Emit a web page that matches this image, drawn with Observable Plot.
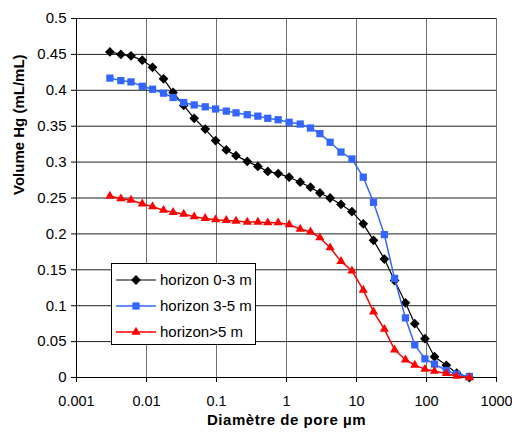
<!DOCTYPE html>
<html>
<head>
<meta charset="utf-8">
<script src="https://cdn.jsdelivr.net/npm/d3@7"></script>
<script src="https://cdn.jsdelivr.net/npm/@observablehq/plot@0.6"></script>
<style>
  body { margin: 0; background: #fff; }
  #wrap { position: relative; width: 512px; height: 437px; font-family: "Liberation Sans", Arial, sans-serif; }
  #legend { position: absolute; left: 111px; top: 263px; width: 143px; height: 80px; border: 1px solid #000; background: #fff; }
  #legend svg { display: block; }
  .xtitle text { letter-spacing: 0.55px; }
</style>
</head>
<body>
<div id="wrap"><div id="chart"></div><div id="legend"></div></div>
<script>
const diameters = [0.003, 0.0043, 0.006, 0.0087, 0.0122, 0.0175, 0.024, 0.034, 0.048, 0.069, 0.097, 0.138, 0.19, 0.275, 0.39, 0.54, 0.76, 1.09, 1.57, 2.2, 3.0, 4.2, 6.0, 8.6, 12.5, 17.5, 25, 35, 50, 68, 95, 130, 192, 270, 410];
const volume0to3 = [0.4535, 0.450, 0.448, 0.442, 0.432, 0.416, 0.397, 0.379, 0.361, 0.346, 0.330, 0.317, 0.309, 0.301, 0.294, 0.287, 0.284, 0.279, 0.272, 0.265, 0.257, 0.250, 0.241, 0.231, 0.214, 0.191, 0.165, 0.135, 0.104, 0.075, 0.054, 0.029, 0.017, 0.006, 0.000];
const volume3to5 = [0.417, 0.4135, 0.4117, 0.4056, 0.4015, 0.396, 0.390, 0.383, 0.3796, 0.377, 0.374, 0.371, 0.3686, 0.366, 0.364, 0.361, 0.359, 0.3555, 0.353, 0.3475, 0.3397, 0.3276, 0.314, 0.3043, 0.279, 0.244, 0.199, 0.138, 0.083, 0.0455, 0.026, 0.0186, 0.0098, 0.0046, 0.0014];
const volumeOver5 = [0.2527, 0.249, 0.247, 0.242, 0.238, 0.233, 0.230, 0.2277, 0.224, 0.2216, 0.2198, 0.2188, 0.2179, 0.2165, 0.2165, 0.2156, 0.2156, 0.213, 0.2067, 0.203, 0.1947, 0.1808, 0.1617, 0.1487, 0.1217, 0.0916, 0.0673, 0.0386, 0.0247, 0.0172, 0.0116, 0.0088, 0.0056, 0.0018, 0.0];
const seriesNames = ["horizon 0-3 m", "horizon 3-5 m", "horizon>5 m"];
const seriesColors = ["#000000", "#3366FF", "#FF0000"];
const seriesSymbols = ["diamond2", "square", "triangle"];
const xTicks = [0.001, 0.01, 0.1, 1, 10, 100, 1000];
const xTickLabels = ["0.001", "0.01", "0.1", "1", "10", "100", "1000"];
const yTicks = [0, 0.05, 0.1, 0.15, 0.2, 0.25, 0.3, 0.35, 0.4, 0.45, 0.5];
const yTickLabels = ["0", "0.05", "0.1", "0.15", "0.2", "0.25", "0.3", "0.35", "0.4", "0.45", "0.5"];
const xTitle = "Diamètre de pore µm";
const yTitle = "Volume Hg (mL/mL)";

const allValues = [volume0to3, volume3to5, volumeOver5];
const seriesRows = allValues.map((vals, i) => diameters.map((d, j) => ({d, v: vals[j], s: seriesNames[i]})));
const radii = [4.4, 4.1, 3.4];
const lineWidths = [1.2, 1.5, 1.5];

const marks = [
  Plot.gridX(xTicks, {stroke: "#707070", strokeOpacity: 1, strokeWidth: 1}),
  Plot.gridY(yTicks, {stroke: "#202020", strokeOpacity: 1, strokeWidth: 1}),
  Plot.ruleX([0.001], {stroke: "#000"}),
  Plot.ruleY([0], {stroke: "#000"}),
  Plot.axisX(xTicks, {tickSize: 5, tickPadding: 13, tickFormat: (d) => xTickLabels[xTicks.indexOf(d)], fontSize: 14.5, label: null, stroke: "#000"}),
  Plot.axisY(yTicks, {tickSize: 5, tickPadding: 5, tickFormat: (d) => yTickLabels[yTicks.indexOf(d)], fontSize: 15, label: null, stroke: "#000"}),
  Plot.text([xTitle], {frameAnchor: "bottom", dy: 47, text: d => d, fontSize: 15, fontWeight: "bold", fill: "#000", className: "xtitle"}),
  Plot.text([yTitle], {frameAnchor: "left", dx: -57, dy: -3, rotate: -90, text: d => d, fontSize: 15, fontWeight: "bold", fill: "#000"})
];
seriesRows.forEach((rows, i) => {
  marks.push(Plot.line(rows, {x: "d", y: "v", stroke: seriesColors[i], strokeWidth: lineWidths[i]}));
  marks.push(Plot.dot(rows, {x: "d", y: "v", symbol: seriesSymbols[i], fill: seriesColors[i], stroke: "none", r: radii[i]}));
});

const chart = Plot.plot({
  width: 512,
  height: 437,
  marginLeft: 76,
  marginRight: 16,
  marginTop: 18,
  marginBottom: 60,
  style: {fontFamily: "'Liberation Sans', Arial, sans-serif", color: "#000", background: "#fff"},
  x: {type: "log", domain: [0.001, 1000]},
  y: {domain: [0, 0.5]},
  marks
});
document.getElementById("chart").appendChild(chart);

// legend
const legend = d3.select("#legend");
const symbolTypes = {diamond2: d3.symbolDiamond2, square: d3.symbolSquare, triangle: d3.symbolTriangle};
seriesNames.forEach((name, i) => {
  const row = legend.append("div").style("position", "absolute").style("left", "0px").style("top", (4 + i * 26) + "px").style("height", "24px").style("width", "143px");
  const svg = row.append("svg").attr("width", 46).attr("height", 24).style("position", "absolute").style("left", "4px").style("top", "0px");
  svg.append("line").attr("x1", 0).attr("x2", 40).attr("y1", 12).attr("y2", 12).attr("stroke", seriesColors[i]).attr("stroke-width", lineWidths[i]);
  svg.append("path").attr("transform", "translate(20,12)").attr("d", d3.symbol(symbolTypes[seriesSymbols[i]], Math.PI * radii[i] * radii[i])()).attr("fill", seriesColors[i]);
  row.append("div").text(name).style("position", "absolute").style("left", "48px").style("top", "3px").style("font-size", "15px").style("white-space", "nowrap").style("color", "#000");
});
</script>
</body>
</html>
